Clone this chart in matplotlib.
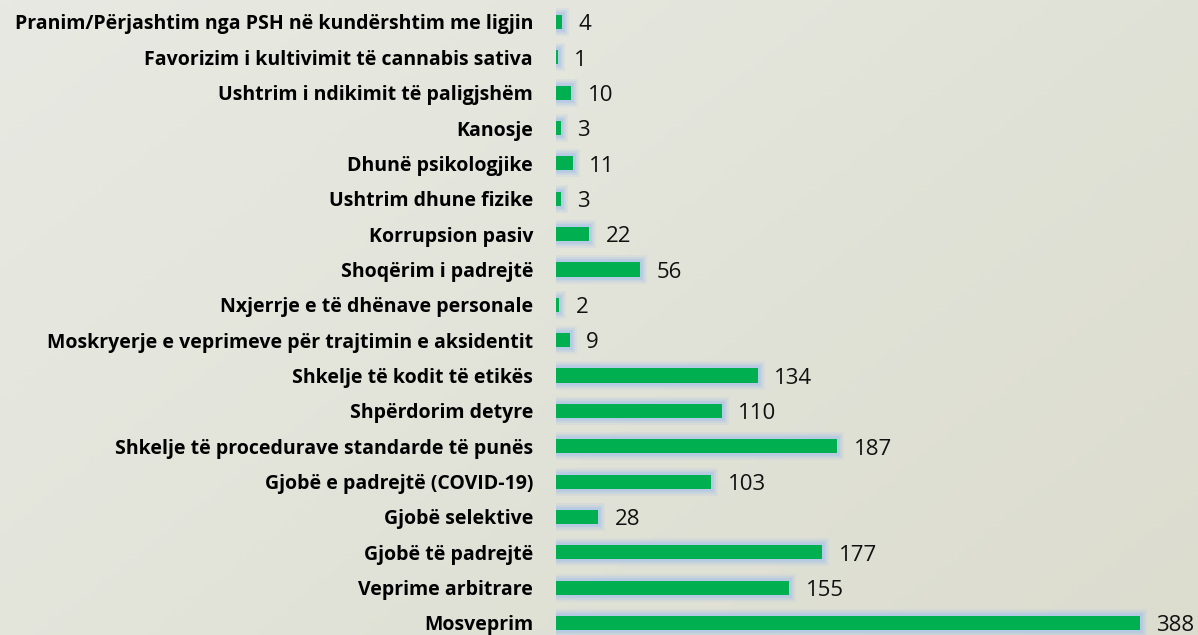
import numpy as np
import matplotlib
matplotlib.use('Agg')
import matplotlib.pyplot as plt
import matplotlib.patheffects as pe
from matplotlib.colors import LinearSegmentedColormap

# data to plot
categories = ['Pranim/Përjashtim nga PSH në kundërshtim me ligjin',
              'Favorizim i kultivimit të cannabis sativa',
              'Ushtrim i ndikimit të paligjshëm',
              'Kanosje',
              'Dhunë psikologjike',
              'Ushtrim dhune fizike',
              'Korrupsion pasiv',
              'Shoqërim i padrejtë',
              'Nxjerrje e të dhënave personale',
              'Moskryerje e veprimeve për trajtimin e aksidentit',
              'Shkelje të kodit të etikës',
              'Shpërdorim detyre',
              'Shkelje të procedurave standarde të punës',
              'Gjobë e padrejtë (COVID-19)',
              'Gjobë selektive',
              'Gjobë të padrejtë',
              'Veprime arbitrare',
              'Mosveprim']
counts = [4, 1, 10, 3, 11, 3, 22, 56, 2, 9, 134, 110, 187, 103, 28, 177, 155, 388]

fig = plt.figure(figsize=(11.98, 6.35), dpi=100)

# background gradient
bg = fig.add_axes([0, 0, 1, 1])
bg.axis('off')
yy, xx = np.mgrid[0:1:100j, 0:1:200j]
grad = 0.6 * xx + 0.4 * (1 - yy)
cmap = LinearSegmentedColormap.from_list('bg', ['#e8e9e2', '#dcddcf'])
bg.imshow(grad, cmap=cmap, aspect='auto', extent=[0, 1, 0, 1], origin='lower')

ax = fig.add_axes([556 / 1198, 0, 1 - 556 / 1198, 1])
ax.patch.set_alpha(0)
index = np.arange(len(categories))

# soft blue glow round the bars
glow = [pe.Stroke(linewidth=10, foreground='#a9c3e6', alpha=0.18),
        pe.Stroke(linewidth=7, foreground='#a9c3e6', alpha=0.3),
        pe.Stroke(linewidth=4, foreground='#a9c3e6', alpha=0.5),
        pe.Stroke(linewidth=1.5, foreground='#b4cbe8', alpha=0.8),
        pe.Normal()]

rects = ax.barh(index, counts, height=0.4, color='#00b050', linewidth=0)
for r in rects:
    r.set_path_effects(glow)

for i, v in enumerate(counts):
    ax.text(v + 11, i + 0.08, str(v), ha='left', va='center',
            fontsize=16, family='Open Sans', color='#111111')

ax.set_yticks(index)
ax.set_yticklabels(categories, fontsize=14, fontweight='bold', family='Open Sans')
ax.tick_params(axis='y', length=0, pad=16.5)
ax.set_xticks([])
ax.set_xlim(0, 426.6)
ax.set_ylim(17.34, -0.622)
for s in ax.spines.values():
    s.set_visible(False)

plt.savefig('out.png', dpi=100)
